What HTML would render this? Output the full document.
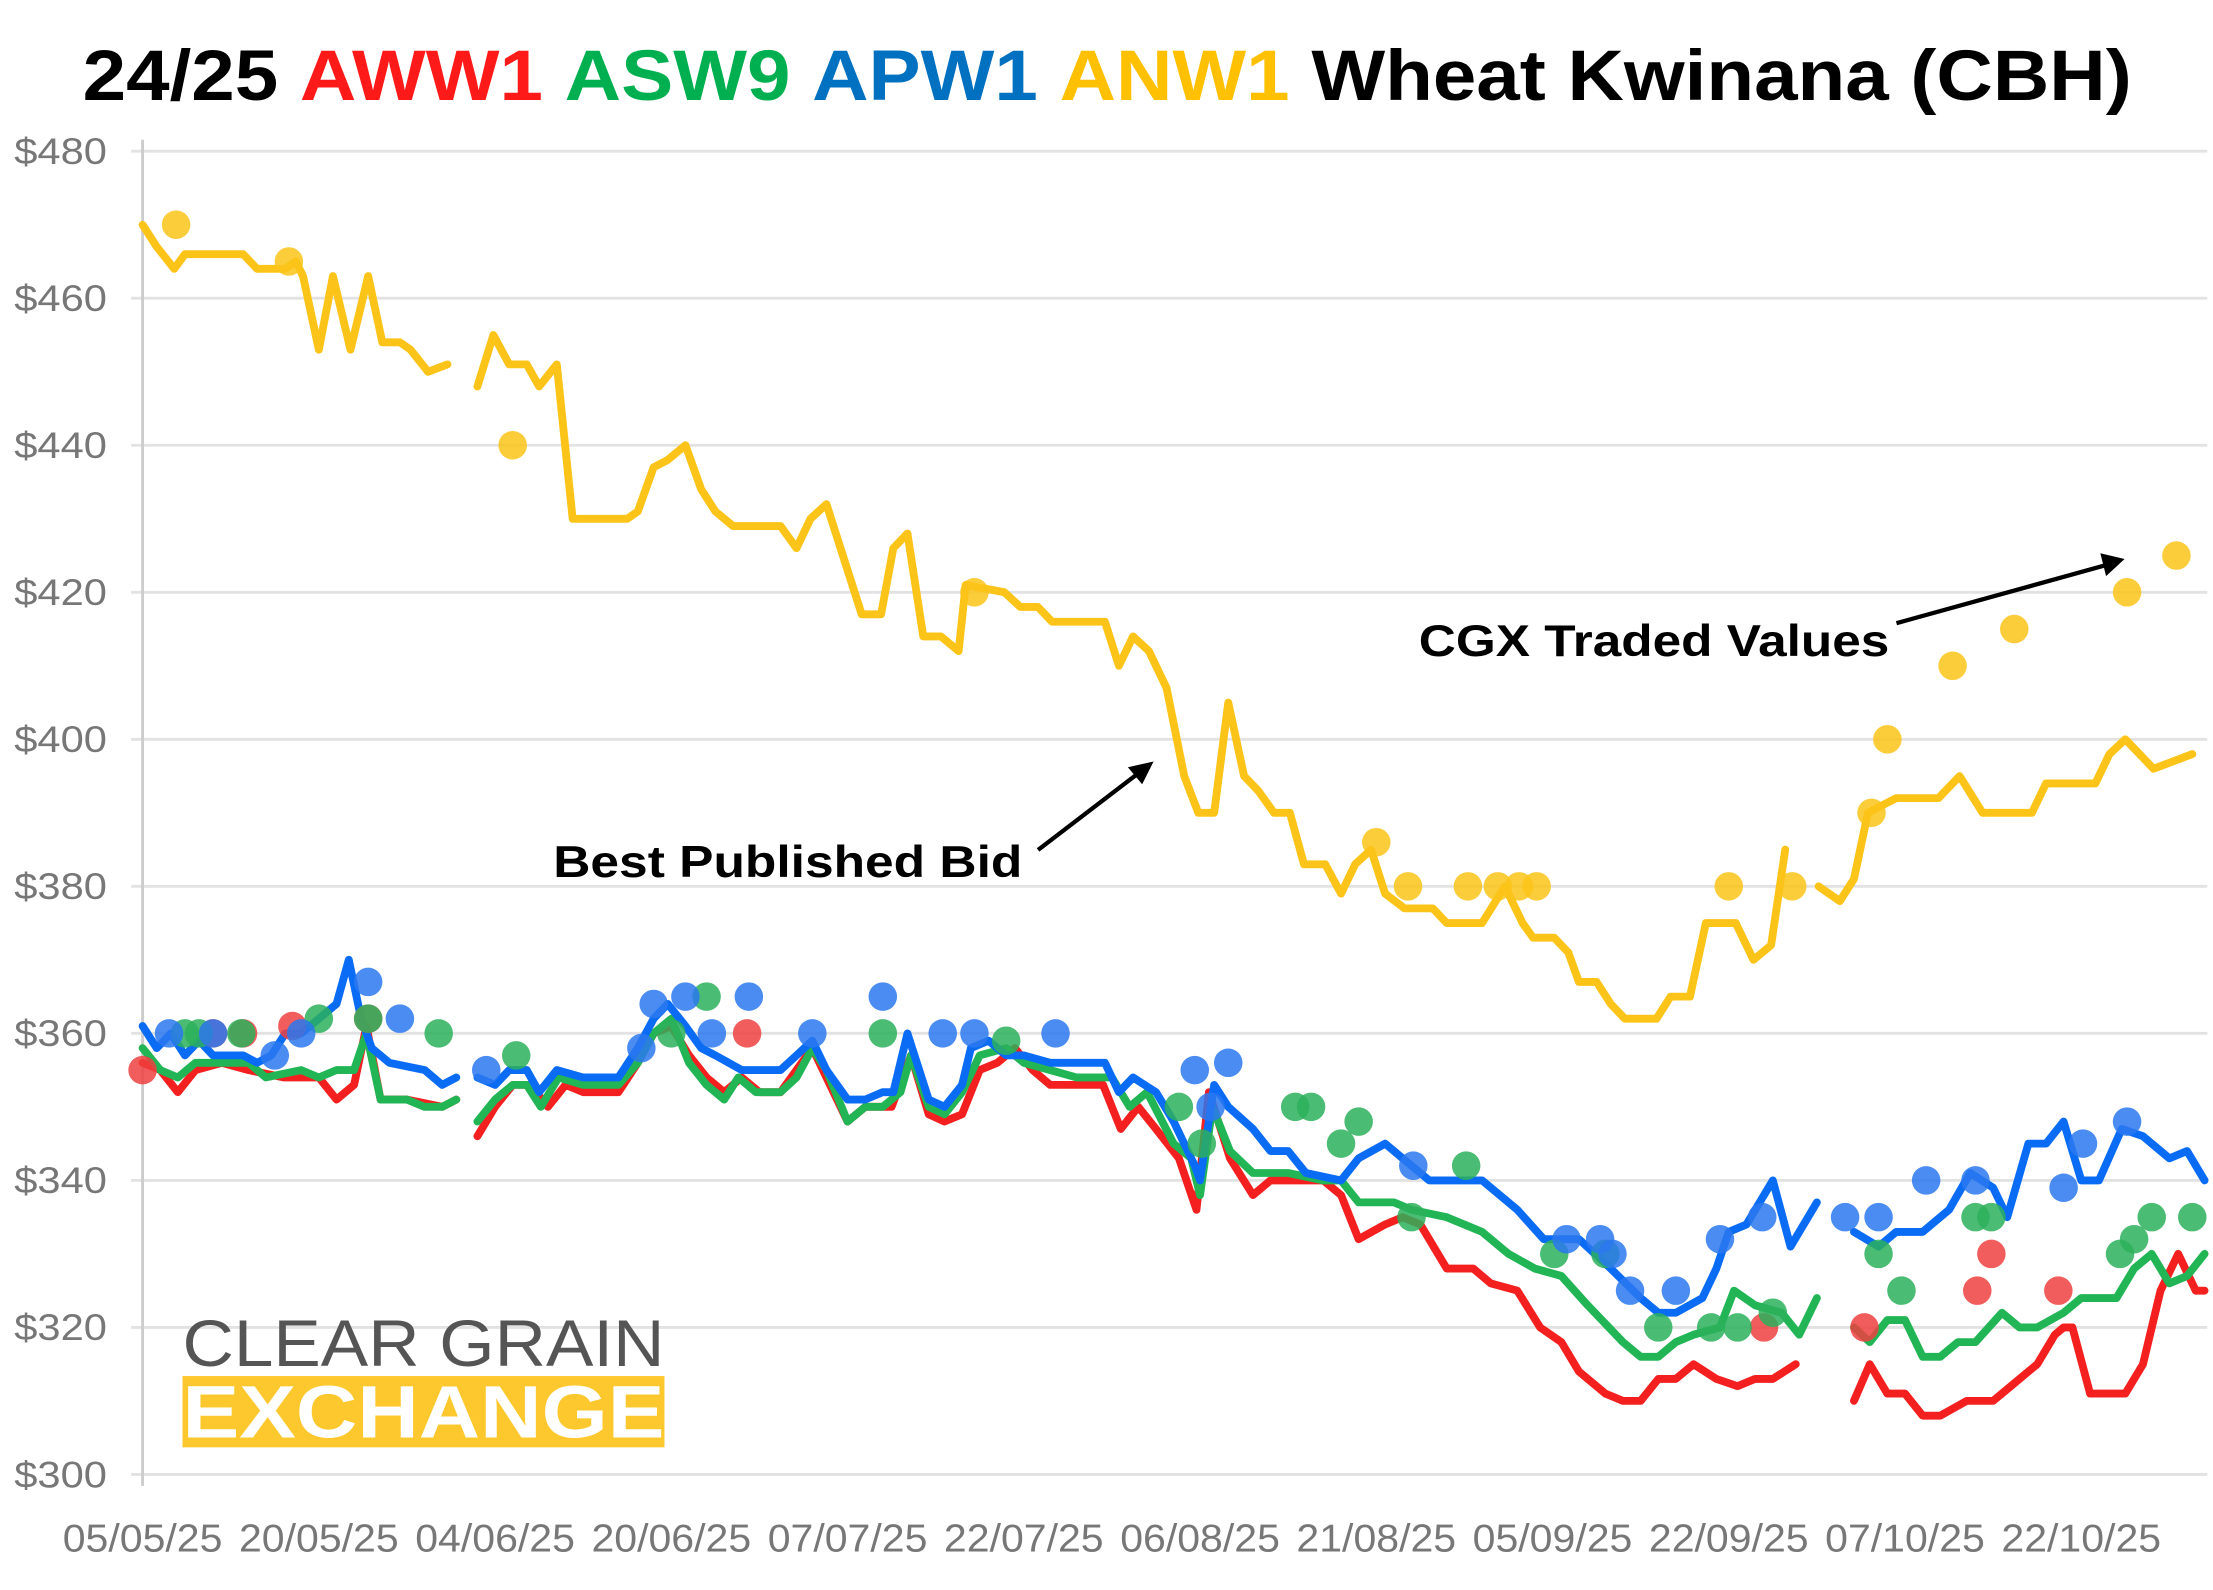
<!DOCTYPE html>
<html><head><meta charset="utf-8"><style>
html,body{margin:0;padding:0;background:#fff}
svg{display:block}
text{font-family:"Liberation Sans",sans-serif}
</style></head><body>
<svg id="chart" width="2213" height="1590" viewBox="0 0 1552 1115" xmlns="http://www.w3.org/2000/svg">
<text x="58" y="70" font-size="50" font-weight="bold" fill="#000" textLength="1437" lengthAdjust="spacingAndGlyphs"><tspan>24/25 </tspan><tspan fill="#ff1a1a">AWW1</tspan> <tspan fill="#00b050">ASW9</tspan> <tspan fill="#0070c0">APW1</tspan> <tspan fill="#ffc000">ANW1</tspan> <tspan>Wheat Kwinana (CBH)</tspan></text>
<g id="grid"></g>
<g id="series"></g>
<g>
<text x="128" y="958" font-size="46" fill="#555" textLength="338" lengthAdjust="spacingAndGlyphs">CLEAR GRAIN</text>
<rect x="128" y="965" width="338" height="50" fill="#fcc82e"/>
<text x="128" y="1008" font-size="52" font-weight="bold" fill="#fff" textLength="338" lengthAdjust="spacingAndGlyphs">EXCHANGE</text>
</g>
<text x="388" y="615" font-size="31" font-weight="bold" fill="#000" textLength="329" lengthAdjust="spacingAndGlyphs">Best Published Bid</text>
<line x1="728" y1="596" x2="800" y2="541" stroke="#000" stroke-width="3"/>
<polygon points="809,534 791,538 801,550" fill="#000"/>
<text x="995" y="460" font-size="31" font-weight="bold" fill="#000" textLength="330" lengthAdjust="spacingAndGlyphs">CGX Traded Values</text>
<line x1="1330" y1="437" x2="1478" y2="396" stroke="#000" stroke-width="3"/>
<polygon points="1490,392 1473,388 1477,404" fill="#000"/>
</svg>
<script>
const yTicks=[300,320,340,360,380,400,420,440,460,480];
const xTickLabels=["05/05/25","20/05/25","04/06/25","20/06/25","07/07/25","22/07/25","06/08/25","21/08/25","05/09/25","22/09/25","07/10/25","22/10/25"];
const xTickPos=[0,100,200,300,400,500,600,700,800,900,1000,1100];

const anwT=[0,8,18,24,57,65,81,87,91,100,108,118,128,136,146,152,162,173,181,190,199,208,218,225,235,244,267,275,281,290,298,308,317,325,335,362,371,379,388,408,419,426,434,443,453,463,467,489,498,508,516,546,554,562,571,581,591,599,608,616,625,633,642,651,659,671,680,688,697,705,716,732,740,760,773,783,789,801,809,815,825,833,841,859,867,878,887,904,914,924,932,941,951,963,971,979,995,1019,1031,1044,1072,1080,1108,1116,1125,1141,1163];
const anwV=[470,467,464,466,466,464,464,465,463,453,463,453,463,454,454,453,450,451,null,448,455,451,451,448,451,430,430,430,431,437,438,440,434,431,429,429,426,430,432,417,417,426,428,414,414,412,421,420,418,418,416,416,410,414,412,407,395,390,390,405,395,393,390,390,383,383,379,383,385,379,377,377,375,375,380,375,373,373,371,367,367,364,362,362,365,365,375,375,370,372,385,null,380,378,381,390,392,392,395,390,390,394,394,398,400,396,398];

const apwT=[0,8,16,24,32,40,57,65,73,81,90,100,110,117,124,130,140,160,170,178,184,190,200,208,218,225,235,250,270,281,290,298,308,317,325,340,362,371,380,388,400,410,420,426,434,446,455,465,470,480,490,500,515,546,554,562,575,585,597,600,608,616,630,640,650,660,680,690,705,715,730,760,780,795,815,833,850,860,870,885,893,900,910,925,935,950,960,971,985,995,1010,1025,1037,1050,1058,1070,1080,1090,1100,1110,1123,1135,1150,1160,1170];
const apwV=[361,358,360,357,359,357,357,356,357,360,360,362,364,370,362,358,356,355,353,354,null,354,353,355,355,352,355,354,354,358,362,364,361,358,357,355,355,357,359,355,351,351,352,352,360,351,350,353,358,359,357,357,356,356,352,354,352,348,342,340,353,350,347,344,344,341,340,343,345,343,340,340,336,332,332,328,324,322,322,324,328,333,334,340,331,337,null,333,331,333,333,336,341,339,335,345,345,348,340,340,347,346,343,344,340];

const aswT=[0,10,20,30,45,60,70,90,100,110,120,127,135,150,160,170,178,184,190,200,210,218,226,236,250,270,281,290,300,310,320,330,338,348,362,371,380,388,400,410,420,430,436,446,455,465,475,490,500,515,530,550,560,570,585,595,600,607,617,630,650,670,680,690,710,720,740,760,775,790,805,820,840,850,860,870,880,895,903,915,930,940,950,960,971,980,990,1000,1010,1020,1030,1040,1055,1065,1075,1090,1100,1110,1120,1130,1140,1150,1160,1170];
const aswV=[358,355,354,356,356,356,354,355,354,355,355,360,351,351,350,350,351,null,348,351,353,353,350,354,353,353,356,360,362,356,353,351,354,352,352,354,358,355,348,350,350,352,357,350,349,352,357,358,356,355,354,354,350,352,345,343,338,350,344,341,341,340,340,337,337,336,335,333,330,328,327,323,318,316,316,318,319,320,325,323,322,319,324,null,320,318,321,321,316,316,318,318,322,320,320,322,324,324,324,328,330,326,327,330];

const awwT=[0,10,20,30,45,60,80,100,110,120,127,135,150,170,178,184,190,200,210,220,230,240,250,270,281,290,300,310,320,330,340,350,362,380,400,410,425,436,446,455,465,475,485,495,505,515,545,555,565,575,588,598,605,617,630,640,670,680,690,705,715,725,740,755,765,780,793,805,815,830,840,850,860,870,880,893,905,915,925,938,955,971,980,990,1000,1010,1020,1035,1050,1060,1075,1085,1090,1095,1105,1125,1135,1145,1155,1165,1170];
const awwV=[356,355,352,355,356,355,354,354,351,353,361,351,351,350,351,null,346,350,353,353,350,353,352,352,356,360,361,357,354,352,354,352,352,358,348,350,350,357,349,348,349,355,356,358,355,353,353,347,350,347,343,336,352,343,338,340,340,338,332,334,335,334,328,328,326,325,320,318,314,311,310,310,313,313,315,313,312,313,313,315,null,310,315,311,311,308,308,310,310,312,315,319,320,320,311,311,315,325,330,325,325];

const anwDotT=[19,83,210,472,700,718,752,769,781,791,900,936,981,990,1027,1062,1126,1154];
const anwDotV=[470,465,440,420,386,380,380,380,380,380,380,380,390,400,410,415,420,425];
const awwDotT=[0,40,57,85,128,343,920,977,1041,1049,1087];
const awwDotV=[355,360,360,361,362,360,320,320,325,330,325];
const aswDotT=[24,32,56,100,128,168,212,300,320,420,490,588,601,654,663,680,690,720,751,801,830,860,890,905,925,985,998,1040,1049,1122,1130,1140,1163];
const aswDotV=[360,360,360,362,362,360,357,360,365,360,359,350,345,350,350,345,348,335,342,330,330,320,320,320,322,330,325,335,335,330,332,335,335];
const apwDotT=[15,40,75,90,128,146,195,283,290,308,323,344,380,420,454,472,518,597,606,616,721,808,827,834,844,870,895,919,966,985,1012,1040,1090,1101,1126];
const apwDotV=[360,360,357,360,367,362,355,358,364,365,360,365,360,365,360,360,360,355,350,356,342,332,332,330,325,325,332,335,335,335,340,340,339,345,348];

const NS='http://www.w3.org/2000/svg';
const X0=100,X1=1548,Y480=106,Y300=1034;
function xs(t){return X0+t*1.236;}
function ys(v){return Y300-(v-300)*(Y300-Y480)/180;}
const grid=document.getElementById('grid');
const series=document.getElementById('series');
function mk(tag,attrs,parent){const e=document.createElementNS(NS,tag);for(const k in attrs)e.setAttribute(k,attrs[k]);parent.appendChild(e);return e;}

yTicks.forEach(v=>{
  const l=mk('line',{x1:X0-8,x2:X1,y1:ys(v),y2:ys(v),stroke:'#e2e2e2','stroke-width':2},grid);
  
  
  const t=mk('text',{x:10,y:ys(v)+9,'font-size':26,fill:'#777',textLength:65,lengthAdjust:'spacingAndGlyphs'},grid);
  t.textContent='$'+v;
  
  
});
const ax=mk('line',{x1:X0,x2:X0,y1:Y480-8,y2:Y300+8,stroke:'#ccc','stroke-width':2},grid);


xTickLabels.forEach((s,i)=>{
  const t=mk('text',{x:xs(xTickPos[i])-56,y:1088,'font-size':27,fill:'#777',textLength:112,lengthAdjust:'spacingAndGlyphs'},grid);
  t.textContent=s;
  
  
});

function drawLine(T,V,color,name){
  let d='',pen=false;
  for(let i=0;i<T.length;i++){
    if(V[i]===null){pen=false;continue;}
    d+=(pen?'L':'M')+xs(T[i]).toFixed(1)+','+ys(V[i]).toFixed(1);
    pen=true;
  }
  const p=mk('path',{d:d,fill:'none',stroke:color,'stroke-width':5.5,'stroke-linejoin':'round','stroke-linecap':'round'},series);
  
  
}
function drawDots(T,V,color,name){
  for(let i=0;i<T.length;i++){
    const c=mk('circle',{cx:xs(T[i]),cy:ys(V[i]),r:10,fill:color,'fill-opacity':0.85},series);
    
    
  }
}
drawLine(anwT,anwV,'#fcc419','anw1-bid-line');
drawLine(awwT,awwV,'#f42020','aww1-bid-line');
drawLine(aswT,aswV,'#22b556','asw9-bid-line');
drawLine(apwT,apwV,'#0a6cf5','apw1-bid-line');
drawDots(anwDotT,anwDotV,'#fcc419','anw1-traded-dot');
drawDots(awwDotT,awwDotV,'#ee4040','aww1-traded-dot');
drawDots(aswDotT,aswDotV,'#2cb05a','asw9-traded-dot');
drawDots(apwDotT,apwDotV,'#2a78ee','apw1-traded-dot');
</script>
</body></html>
